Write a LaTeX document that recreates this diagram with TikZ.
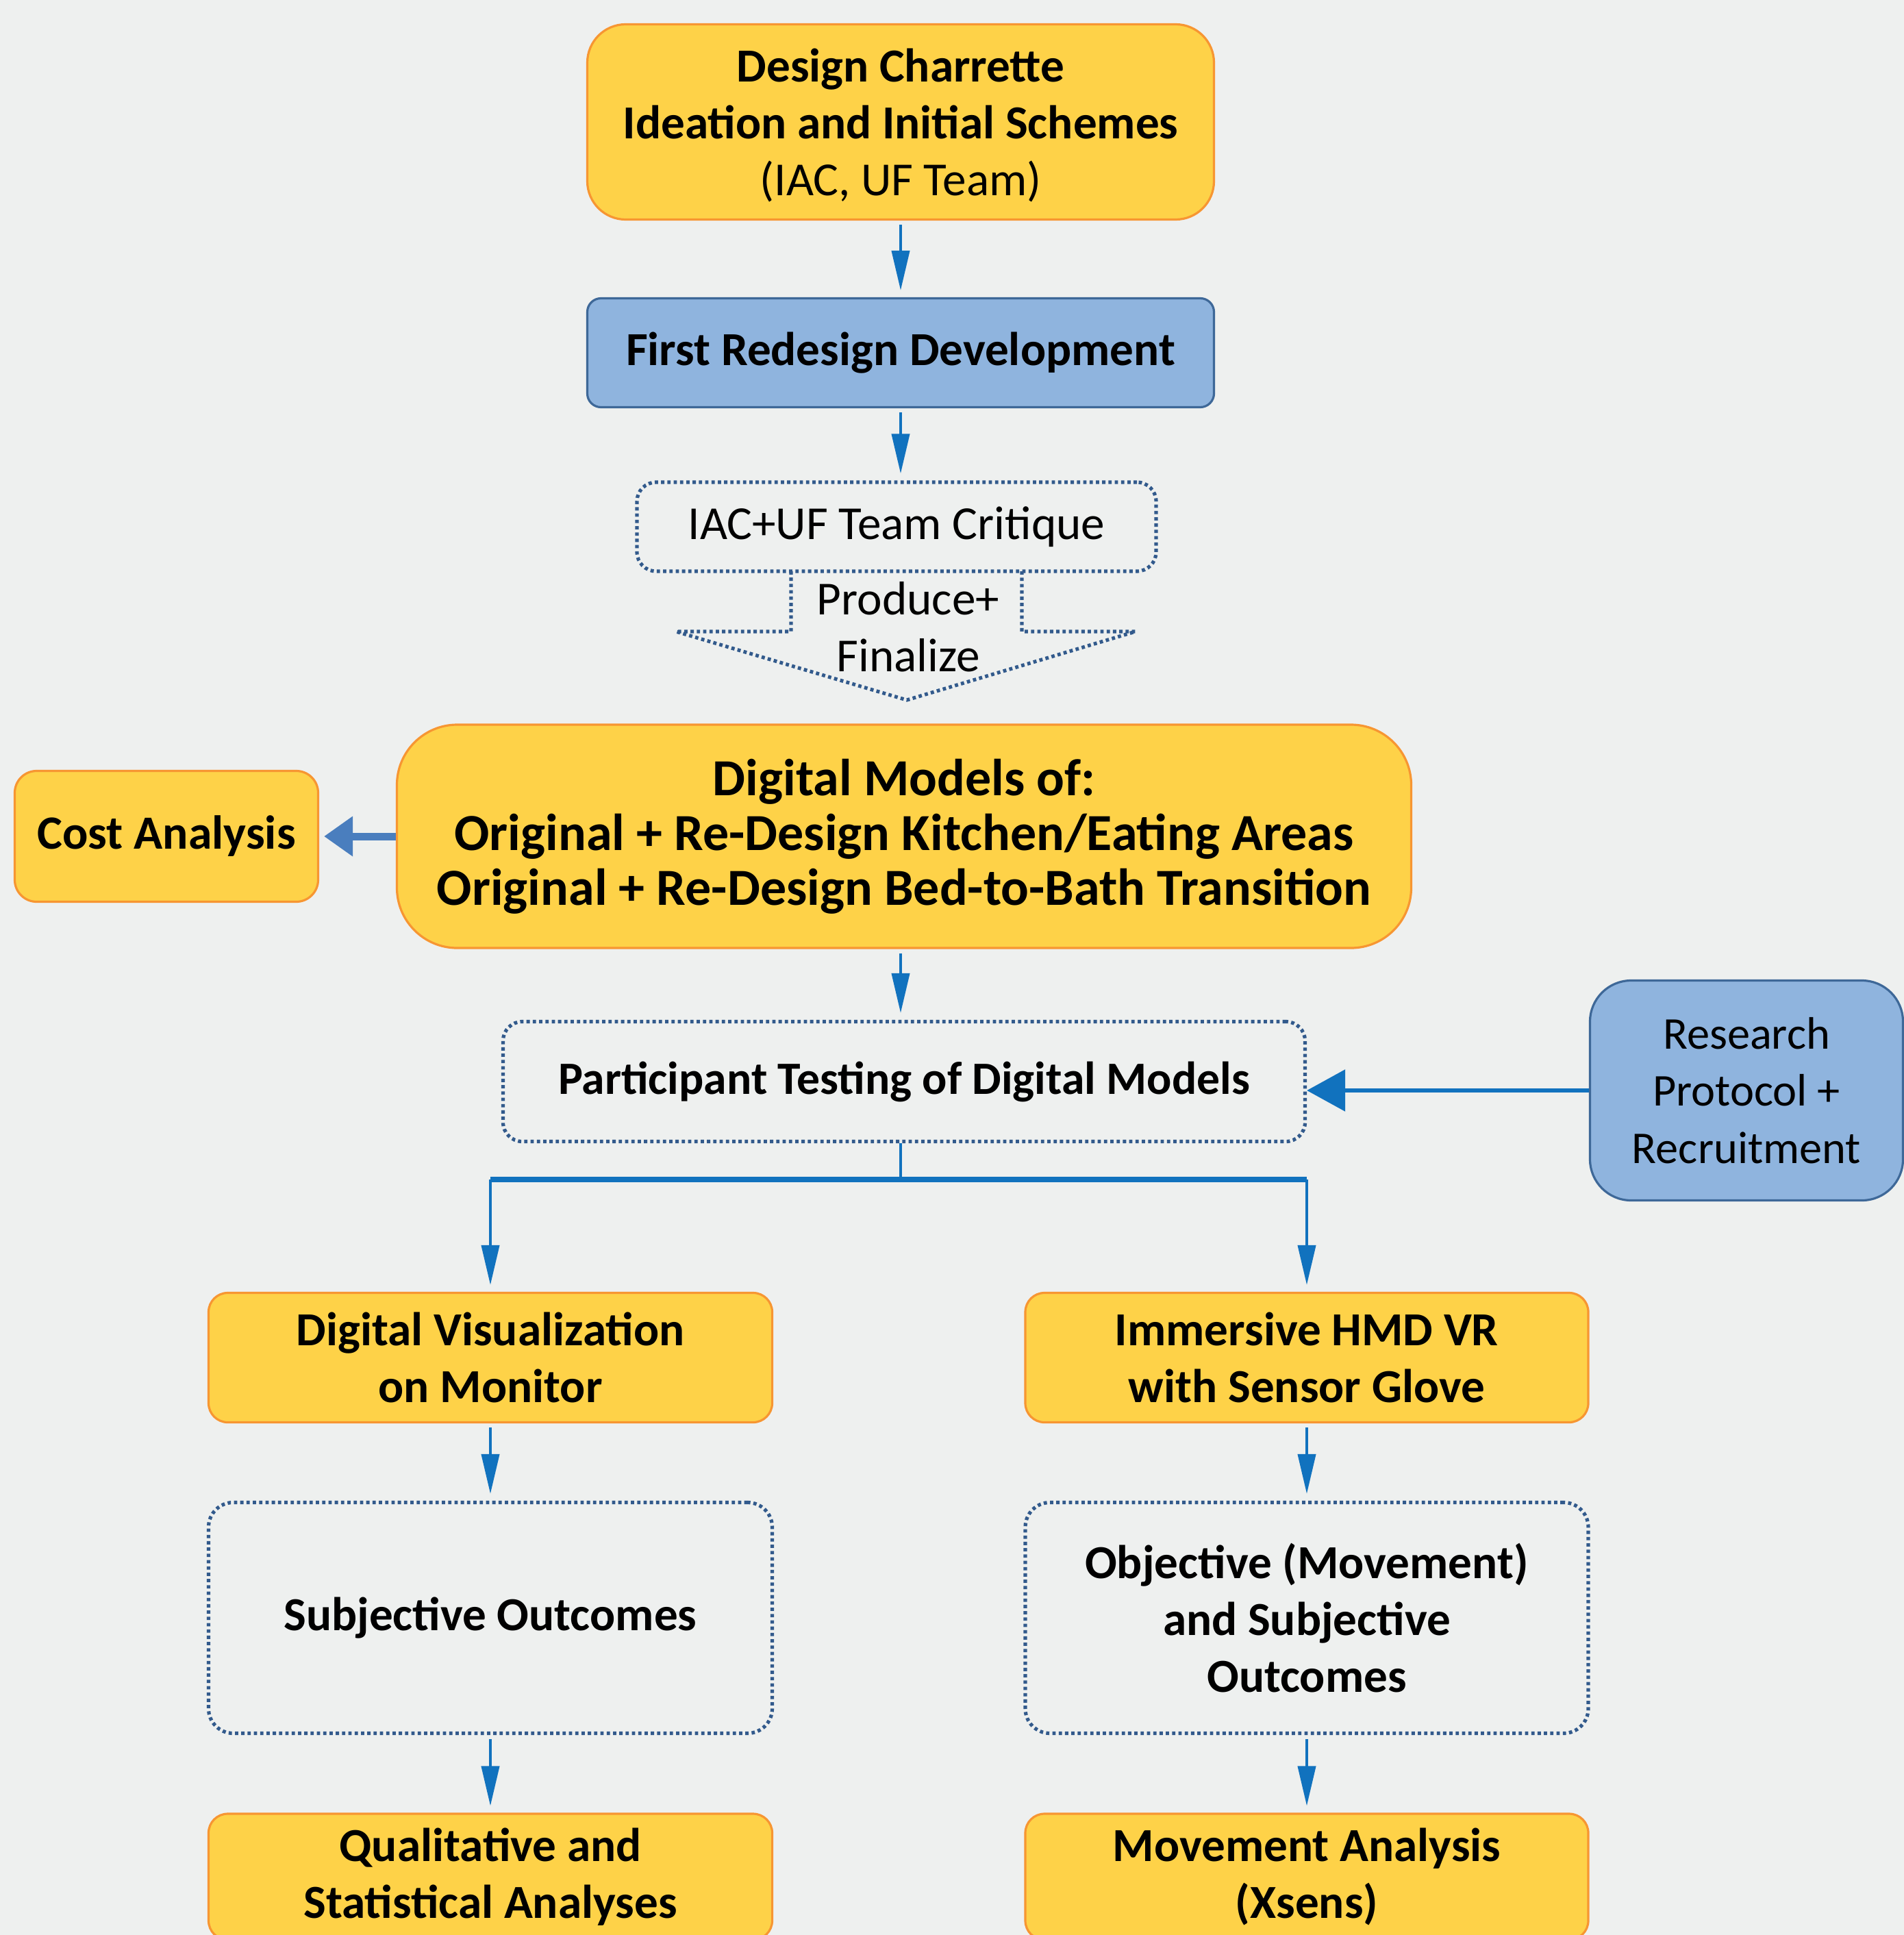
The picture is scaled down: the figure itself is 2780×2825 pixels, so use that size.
\documentclass[tikz,border=0pt]{standalone}
\usepackage{fontspec}
\setmainfont{Carlito}
\usetikzlibrary{arrows.meta}
\definecolor{bg}{RGB}{238,240,239}
\definecolor{yel}{RGB}{254,210,72}
\definecolor{orn}{RGB}{247,150,50}
\definecolor{bfill}{RGB}{143,180,222}
\definecolor{bline}{RGB}{62,104,152}
\definecolor{arr}{RGB}{17,114,190}
\definecolor{dotc}{RGB}{50,90,140}
\definecolor{carr}{RGB}{74,126,190}
\begin{document}
\begin{tikzpicture}[x=0.25pt,y=-0.25pt,
  sz/.style 2 args={minimum width=#1*0.25pt, minimum height=#2*0.25pt, inner sep=0pt, align=center},
  txt/.style={font=\fontsize{17.3}{20.8}\selectfont},
  ybox/.style={fill=yel, draw=orn, line width=0.8pt},
  bbox/.style={fill=bfill, draw=bline, line width=0.8pt},
  dbox/.style={draw=dotc, line width=1.3pt, dash pattern=on 1.2pt off 1.1pt},
  link/.style={draw=arr, line width=1pt, -{Triangle[length=14.5pt,width=6.5pt]}, shorten <=1.5pt, shorten >=2.5pt},
]
\path[use as bounding box, fill=bg] (0,0) rectangle (2780,2825);

% top box
\node[ybox, sz={915}{285}, txt, rounded corners=14pt, text depth=0pt] (top) at (1315,178)
  {\textbf{Design Charrette}\\\textbf{Ideation and Initial Schemes}\\(IAC, UF Team)\rule[-6pt]{0pt}{6pt}};
\node[bbox, sz={915}{159}, txt, rounded corners=5pt, font=\fontsize{17.3}{20.8}\selectfont\bfseries] (red) at (1315,515)
  {First Redesign Development};
\node[dbox, sz={758}{130}, txt, rounded corners=7pt] (crit) at (1309,769)
  {IAC+UF Team Critique};

% produce arrow shape
\draw[dbox] (1155,834) -- (1155,922) -- (987,922) -- (1324,1022) coordinate (ptip)
  -- (1658,922) -- (1492,922) -- (1492,834);
\node[sz={300}{160}, txt] (prod) at (1326,915) {Produce+\\Finalize};

% big box
\node[ybox, sz={1481}{326}, rounded corners=22pt, font=\fontsize{19}{20}\selectfont\bfseries] (big) at (1320,1221)
  {Digital Models of:\\ Original + Re-Design Kitchen/Eating Areas\\Original + Re-Design Bed-to-Bath Transition};
\node[ybox, sz={443}{191}, rounded corners=8pt, font=\fontsize{17.4}{20.8}\selectfont\bfseries] (cost) at (243,1221)
  {Cost Analysis};

% participant
\node[dbox, sz={1171}{175}, rounded corners=7pt, font=\fontsize{16.9}{20.8}\selectfont\bfseries] (part) at (1320,1579)
  {Participant Testing of Digital Models};
\node[bbox, sz={457}{321}, rounded corners=15pt, font=\fontsize{16.6}{20.8}\selectfont] (res) at (2550,1592)
  {Research\\Protocol +\\Recruitment};

% columns
\node[ybox, sz={823}{189}, rounded corners=7pt, font=\fontsize{17.3}{20.8}\selectfont\bfseries] (dv) at (716,1982)
  {Digital Visualization\\on Monitor};
\node[ybox, sz={822}{189}, rounded corners=7pt, font=\fontsize{17.3}{20.8}\selectfont\bfseries] (im) at (1908,1982)
  {Immersive HMD VR\\with Sensor Glove};
\node[dbox, sz={823}{337}, rounded corners=9pt, font=\fontsize{17.3}{20.8}\selectfont\bfseries] (subj) at (716,2362)
  {Subjective Outcomes};
\node[dbox, sz={822}{337}, rounded corners=9pt, font=\fontsize{17.3}{20.8}\selectfont\bfseries] (obj) at (1908,2362)
  {Objective (Movement)\\and Subjective\hspace*{4pt}\\Outcomes};
\node[ybox, sz={823}{184}, rounded corners=7pt, font=\fontsize{17.3}{20.8}\selectfont\bfseries] (qual) at (716,2740)
  {Qualitative and\\Statistical Analyses};
\node[ybox, sz={822}{184}, rounded corners=7pt, font=\fontsize{17.3}{20.8}\selectfont\bfseries] (mov) at (1908,2740)
  {Movement Analysis\\(Xsens)};

% connectors
\draw[link] (top.south) -- (red.north);
\draw[link] (red.south) -- (red.south |- crit.north);
\draw[link] (big.south -| top.south) -- (part.north -| top.south);
\draw[draw=carr, line width=2.75pt, -{Triangle[length=10.5pt,width=14pt]}, shorten >=1.75pt] (big.west) -- (cost.east);
\draw[draw=arr, line width=1.5pt, -{Triangle[length=14pt,width=15pt]}] (res.west) -- (res.west -| part.east);

\coordinate (br) at (1315,1722);
\draw[draw=arr, line width=1pt] (part.south -| br) -- (br);
\draw[draw=arr, line width=1.8pt] (br -| dv.north) -- (br -| im.north);
\draw[link, shorten <=0pt] (br -| dv.north) -- (dv.north);
\draw[link, shorten <=0pt] (br -| im.north) -- (im.north);
\draw[link] (dv.south) -- (subj.north);
\draw[link] (im.south) -- (obj.north);
\draw[link] (subj.south) -- (qual.north);
\draw[link] (obj.south) -- (mov.north);
\end{tikzpicture}
\end{document}
